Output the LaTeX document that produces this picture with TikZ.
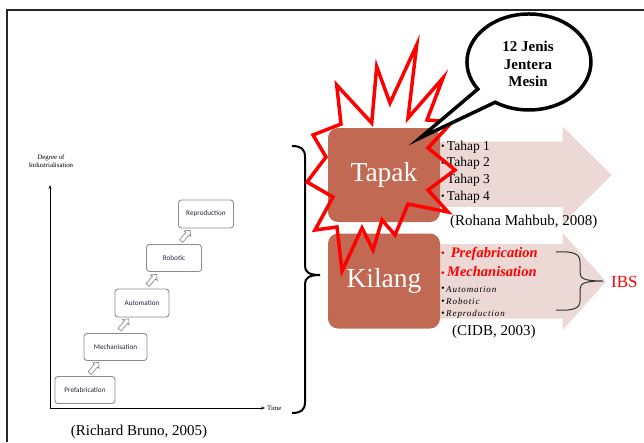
\documentclass[tikz,border=0pt]{standalone}
\usepackage{fontspec}
\setmainfont{Liberation Serif}
\newfontfamily\chartfont{Carlito}
\newfontfamily\spacedfont[LetterSpace=10]{Liberation Serif}
\usetikzlibrary{shapes.arrows,arrows.meta}
\definecolor{brownbox}{RGB}{193,105,82}
\definecolor{pinkarrow}{RGB}{236,216,212}
\definecolor{chartborder}{RGB}{140,140,140}
\definecolor{charttext}{RGB}{38,38,64}
\definecolor{ibsred}{RGB}{255,0,0}
\tikzset{
  bigbox/.style={rectangle, rounded corners=10pt, fill=brownbox, text=white,
    font=\fontsize{27.5}{30}\selectfont, minimum width=112pt, minimum height=94pt, inner sep=0pt},
  pinkbody/.style={fill=pinkarrow, draw=none},
  burst/.style={draw=red, line width=3.5pt, line join=miter},
  balloon/.style={draw=black, line width=3.5pt, fill=white, line join=miter},
  chartbox/.style={rectangle, rounded corners=3pt, draw=chartborder, line width=0.9pt, fill=white,
    font=\chartfont\fontsize{7.2}{8}\selectfont, text=charttext, inner sep=0pt},
  hollowarrow/.style={single arrow, draw=chartborder, fill=white, line width=0.7pt,
    minimum height=14pt, inner sep=1.7pt, single arrow head extend=2.2pt, rotate=50},
  tinylabel/.style={font=\fontsize{6.8}{7.8}\selectfont, inner sep=0pt, align=center},
  citation/.style={font=\fontsize{15}{17}\selectfont, inner sep=0pt},
  tahap/.style={font=\fontsize{13.5}{15}\selectfont, inner sep=0pt, anchor=west},
  redlist/.style={font=\fontsize{14.5}{16}\selectfont\bfseries\itshape, text=ibsred, inner sep=0pt, anchor=west},
  smalllist/.style={font=\spacedfont\fontsize{9}{10}\selectfont\itshape, inner sep=0pt, anchor=west},
  axis/.style={line width=0.8pt, -{Stealth[length=4pt,width=3pt]}},
}
\newcommand{\smallbul}{{\fontsize{10}{10}\selectfont\raisebox{0.1ex}{•}}\,}
\begin{document}
\begin{tikzpicture}[x=1pt,y=-1pt]
\useasboundingbox (0,0) rectangle (644,442);
% frame
\draw[line width=2pt, black!85] (7,442) -- (7,10) -- (644,10);

% ---------- left chart ----------
\coordinate (origin) at (50,408);
\coordinate (ytop) at (50,185);
\coordinate (xend) at (265,408);
\draw[axis] (origin) -- (ytop);
\draw[axis] (origin) -- (xend);
\node[tinylabel] (ylabel) at (51,161) {Degree of\\Industrialisation};
\node[tinylabel, anchor=west] (xlabel) at (267,408) {Time};

\node[chartbox, minimum width=60pt, minimum height=27pt] (prefab) at (85,390) {Prefabrication};
\node[chartbox, minimum width=63pt, minimum height=27pt] (mech) at (115.5,347) {Mechanisation};
\node[chartbox, minimum width=54pt, minimum height=28pt] (auto) at (142,303) {Automation};
\node[chartbox, minimum width=55pt, minimum height=27pt] (robot) at (174,258) {Robotic};
\node[chartbox, minimum width=55pt, minimum height=28pt] (repro) at (206,214) {Reproduction};

\node[hollowarrow] (a1) at (93.5,368.5) {};
\node[hollowarrow] (a2) at (123.5,325) {};
\node[hollowarrow] (a3) at (151.5,280.5) {};
\node[hollowarrow] (a4) at (185,236.5) {};

\node[citation] (bruno) at (139,432) {(Richard Bruno, 2005)};

% big brace
\draw[line width=2pt] (292,146) .. controls (301,146) and (305,149) .. (305,157)
  -- (305,266) .. controls (305,272) and (309,275) .. (320,275)
  .. controls (309,275) and (305,278) .. (305,284)
  -- (305,402) .. controls (305,410) and (301,413) .. (292,413);

% ---------- pink arrows ----------
\fill[pinkbody] (430,141.7) -- (562.7,141.7) -- (562.7,126.5) -- (611.7,175)
  -- (562.7,223.5) -- (562.7,207) -- (430,207) -- cycle;
\fill[pinkbody] (430,244) -- (562.7,244) -- (562.7,233) -- (606,281.5)
  -- (562.7,330) -- (562.7,318.5) -- (430,318.5) -- cycle;

% ---------- boxes ----------
\node[bigbox] (tapak) at (384,175) {Tapak};
\node[bigbox, minimum height=95pt] (kilang) at (384,281) {Kilang};

% Tahap list
\node[tahap] (t1) at (441,147) {\smallbul Tahap 1};
\node[tahap] (t2) at (441,163.5) {\smallbul Tahap 2};
\node[tahap] (t3) at (441,180) {\smallbul Tahap 3};
\node[tahap] (t4) at (441,197) {\smallbul Tahap 4};
\node[citation, anchor=west] (rohana) at (450,222) {(Rohana Mahbub, 2008)};

% Kilang list
\node[redlist] (k1) at (441,253.5) {\smallbul\ Prefabrication};
\node[redlist] (k2) at (441,271.5) {\smallbul Mechanisation};
\node[smalllist] (k3) at (441,289.5) {\smallbul Automation};
\node[smalllist] (k4) at (441,301.5) {\smallbul Robotic};
\node[smalllist] (k5) at (441,314.5) {\smallbul Reproduction};
\node[citation, anchor=west] (cidb) at (452,332) {(CIDB, 2003)};

% IBS brace
\draw[line width=1pt, black!80] (556,252) .. controls (574,251) and (580,254) .. (580,262)
  -- (580,273) .. controls (580,279) and (586,281) .. (603,281)
  .. controls (586,281) and (580,283) .. (580,289)
  -- (580,301) .. controls (580,308) and (574,311) .. (556,310);
\node[font=\fontsize{17}{19}\selectfont, text=ibsred, inner sep=0pt, anchor=west] (ibs) at (611,281.5) {IBS};

% ---------- starburst ----------
\draw[burst] (416.7,45) -- (408,118) -- (443,78) -- (427,120) -- (452,122) -- (428,148)
  -- (455,170) -- (428,190) -- (448,212) -- (408,204) -- (395,235) -- (382,220)
  -- (373,250) -- (362,228) -- (342,271) -- (337,227) -- (315,230) -- (333,197)
  -- (307,182) -- (326,157) -- (313,135) -- (341,124) -- (336.7,85) -- (371.7,123)
  -- (376.7,66.7) -- (390,103) -- cycle;

% ---------- balloon ----------
\coordinate (tailtip) at (420,138);
\draw[balloon] (477.8,89.1) arc[start angle=145.6, end angle=483, x radius=62, y radius=48]
  -- (tailtip) -- cycle;
\node[font=\fontsize{15}{17.5}\selectfont\bfseries, align=center, inner sep=0pt] (bubble) at (528,64) {12 Jenis\\Jentera\\Mesin};
\end{tikzpicture}
\end{document}
